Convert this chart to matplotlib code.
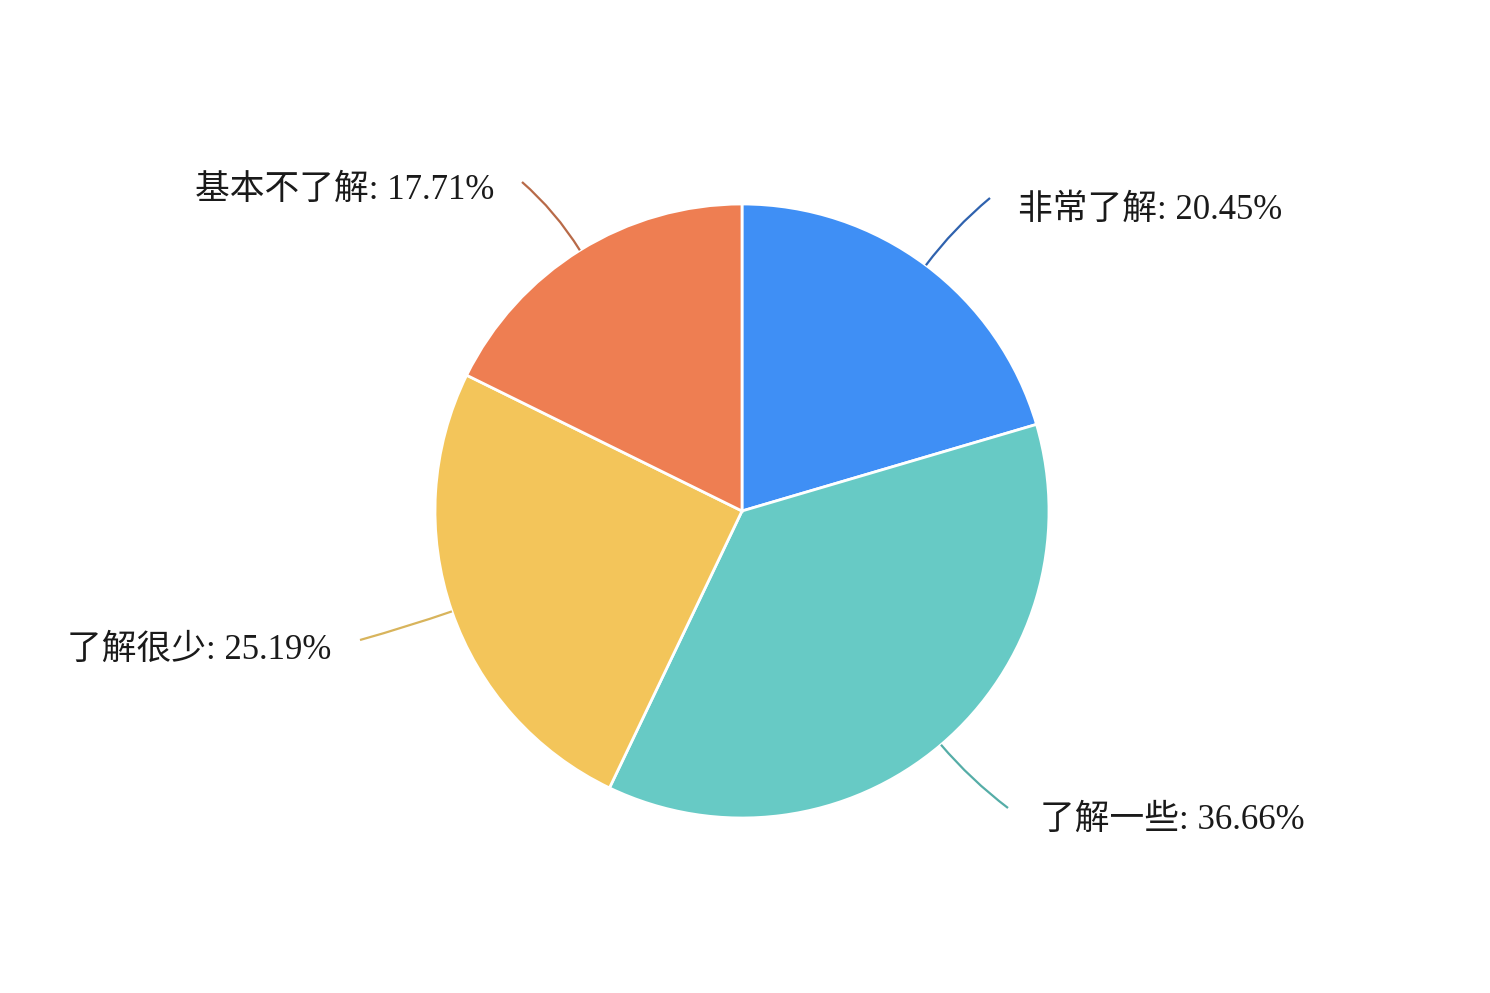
import matplotlib
matplotlib.use('Agg')
import matplotlib.pyplot as plt
from matplotlib.path import Path
from matplotlib.patches import PathPatch
import numpy as np

labels = ['非常了解', '了解一些', '了解很少', '基本不了解']
values = [20.45, 36.66, 25.19, 17.71]
colors = ['#3F8FF5', '#67CAC5', '#F3C55A', '#EE7E52']
line_colors = ['#2F62AE', '#55ADA7', '#D8B45C', '#B86A48']

W, H = 1490, 993
fig = plt.figure(figsize=(W / 100, H / 100), dpi=100)
ax = fig.add_axes([0, 0, 1, 1])
ax.set_xlim(0, W)
ax.set_ylim(0, H)
ax.set_aspect('equal')
ax.axis('off')

cx, cy, R = 742, H - 511, 307

wedges, _ = ax.pie(values, colors=colors, startangle=90, counterclock=False,
                   center=(cx, cy), radius=R, frame=True,
                   wedgeprops=dict(edgecolor='white', linewidth=2))
ax.set_xlim(0, W)
ax.set_ylim(0, H)
ax.axis('off')

# label layout (pixel coords, y from top): line end, text anchor, alignment
line_ends = [(990, 198), (1008, 808), (360, 640), (522, 182)]
text_pos = [(1018, 210, 'left'), (1040, 820, 'left'), (331, 650, 'right'), (494, 190, 'right')]

for w, lab, val, lc, le, tp in zip(wedges, labels, values, line_colors, line_ends, text_pos):
    ang = np.deg2rad((w.theta1 + w.theta2) / 2)
    p0 = (cx + R * np.cos(ang), cy + R * np.sin(ang))
    p1 = (cx + 1.15 * R * np.cos(ang), cy + 1.15 * R * np.sin(ang))
    p2 = (le[0], H - le[1])
    path = Path([p0, p1, p2], [Path.MOVETO, Path.CURVE3, Path.CURVE3])
    ax.add_patch(PathPatch(path, fc='none', ec=lc, lw=1.6))
    ax.text(tp[0], H - tp[1], f'{lab}: {val:.2f}%', ha=tp[2], va='center',
            fontsize=25, color='#1a1a1a',
            family=['Liberation Serif', 'Noto Sans CJK SC'])

fig.savefig('out.png', dpi=100, facecolor='white')
